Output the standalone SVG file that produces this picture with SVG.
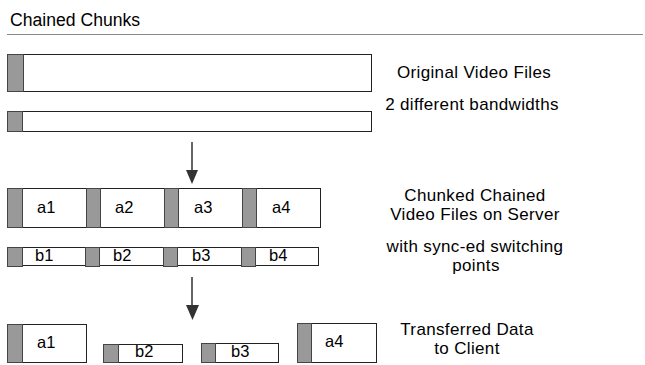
<svg xmlns="http://www.w3.org/2000/svg" width="645" height="365" viewBox="0 0 645 365">
<defs>
<style>
.t{font-family:"Liberation Sans",Arial,Helvetica,sans-serif;font-size:16.5px;fill:#000}
.l{font-size:17px;letter-spacing:0.35px}
.c{text-anchor:middle}
.box{fill:#fff;stroke:#222;stroke-width:1}
.bar{fill:#999;stroke:#444;stroke-width:1}
.arr{stroke:#333;stroke-width:1.5;fill:none}
</style>
</defs>
<rect width="645" height="365" fill="#fff"/>
<text class="t" x="10" y="26" style="font-size:17.6px">Chained Chunks</text>
<line x1="7" y1="34.5" x2="643" y2="34.5" stroke="#888" stroke-width="1.2"/>

<g id="orig-a">
<rect class="box" x="7.5" y="54.5" width="364" height="37"/>
<rect class="bar" x="7.5" y="54.5" width="16" height="37"/>
</g>
<g id="orig-b">
<rect class="box" x="7.5" y="111.5" width="364" height="20"/>
<rect class="bar" x="7.5" y="111.5" width="15" height="20"/>
</g>
<g id="label-orig">
<text class="t l c" x="474" y="78">Original Video Files</text>
<text class="t l c" x="472" y="110">2 different bandwidths</text>
</g>

<g id="connectors">
<line class="arr" x1="192" y1="142" x2="192" y2="171"/>
<path d="M186,170 L198,170 L192,184 Z" fill="#333"/>
<line class="arr" x1="192" y1="277" x2="192" y2="306"/>
<path d="M186,305 L199,305 L192.5,320 Z" fill="#333"/>
</g>

<g id="chunks-a">
<rect class="box" x="7.5" y="188.5" width="313" height="39"/>
<rect class="bar" x="7.5" y="188.5" width="15" height="39"/>
<rect class="bar" x="86.5" y="188.5" width="14" height="39"/>
<rect class="bar" x="164.5" y="188.5" width="14" height="39"/>
<rect class="bar" x="242.5" y="188.5" width="14" height="39"/>
<text class="t" x="37" y="213">a1</text>
<text class="t" x="115" y="213">a2</text>
<text class="t" x="194" y="213">a3</text>
<text class="t" x="272" y="213">a4</text>
</g>
<g id="chunks-b">
<rect class="box" x="7.5" y="247.5" width="311" height="18"/>
<rect class="bar" x="7.5" y="247.5" width="15" height="19"/>
<rect class="bar" x="85.5" y="247.5" width="14" height="19"/>
<rect class="bar" x="163.5" y="247.5" width="14" height="19"/>
<rect class="bar" x="241.5" y="247.5" width="14" height="19"/>
<text class="t" x="35" y="261">b1</text>
<text class="t" x="113" y="261">b2</text>
<text class="t" x="192" y="261">b3</text>
<text class="t" x="269" y="261">b4</text>
</g>
<g id="label-server">
<text class="t l c" x="475" y="201">Chunked Chained</text>
<text class="t l c" x="475" y="220">Video Files on Server</text>
<text class="t l c" x="475" y="252">with sync-ed switching</text>
<text class="t l c" x="476" y="271">points</text>
</g>

<g id="out-a1">
<rect class="box" x="7.5" y="324.5" width="79" height="38"/>
<rect class="bar" x="7.5" y="324.5" width="15" height="38"/>
<text class="t" x="37" y="348">a1</text>
</g>
<g id="out-b2">
<rect class="box" x="103.5" y="344.5" width="79" height="18"/>
<rect class="bar" x="103.5" y="344.5" width="15" height="18"/>
<text class="t" x="135" y="357">b2</text>
</g>
<g id="out-b3">
<rect class="box" x="201.5" y="343.5" width="77" height="19"/>
<rect class="bar" x="201.5" y="343.5" width="14" height="19"/>
<text class="t" x="231" y="357">b3</text>
</g>
<g id="out-a4">
<rect class="box" x="297.5" y="323.5" width="79" height="39"/>
<rect class="bar" x="297.5" y="323.5" width="14" height="39"/>
<text class="t" x="325" y="347">a4</text>
</g>
<g id="label-client">
<text class="t l c" x="467" y="335">Transferred Data</text>
<text class="t l c" x="467" y="354">to Client</text>
</g>
</svg>
